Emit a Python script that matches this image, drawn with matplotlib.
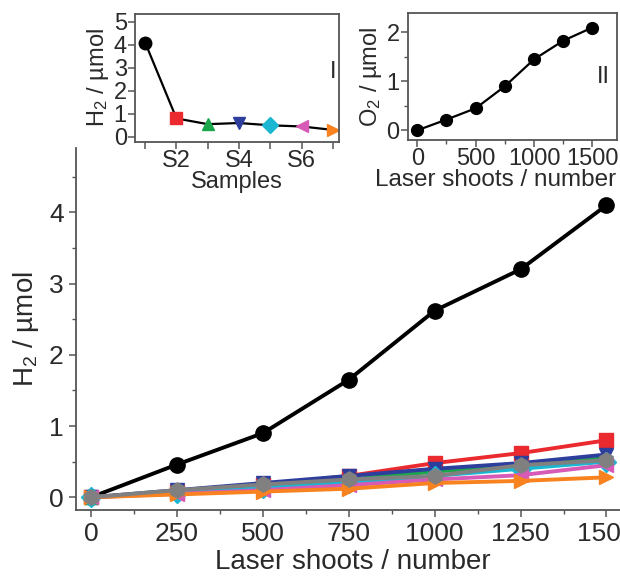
import matplotlib

matplotlib.use("Agg")
import matplotlib.pyplot as plt
from matplotlib.ticker import MultipleLocator

# main panel: H2 vs laser shots, one series per sample
shots = [0, 250, 500, 750, 1000, 1250, 1500]
h2_s1 = [0, 0.46, 0.90, 1.65, 2.62, 3.20, 4.10]
h2_s2 = [0, 0.08, 0.17, 0.30, 0.48, 0.62, 0.80]
h2_s3 = [0, 0.08, 0.16, 0.25, 0.36, 0.45, 0.55]
h2_s4 = [0, 0.10, 0.20, 0.30, 0.40, 0.48, 0.60]
h2_s5 = [0, 0.06, 0.13, 0.20, 0.30, 0.40, 0.50]
h2_s6 = [0, 0.05, 0.10, 0.17, 0.25, 0.31, 0.45]
h2_s7 = [0, 0.04, 0.08, 0.12, 0.20, 0.23, 0.28]
h2_s8 = [0, 0.10, 0.18, 0.25, 0.30, 0.45, 0.52]

# inset I: final H2 per sample
samples = [1, 2, 3, 4, 5, 6, 7]
sample_labels = ["", "S2", "", "S4", "", "S6", ""]
h2_final = [4.10, 0.80, 0.55, 0.60, 0.50, 0.45, 0.30]

# inset II: O2 vs laser shots
o2 = [0, 0.22, 0.45, 0.90, 1.45, 1.83, 2.10]

SERIES = [
    (h2_s1, "#000000", "o"),
    (h2_s2, "#ea2a2e", "s"),
    (h2_s3, "#1ba64b", "^"),
    (h2_s4, "#2d3e9c", "v"),
    (h2_s5, "#1ab6d2", "D"),
    (h2_s6, "#d65ab6", "<"),
    (h2_s7, "#f7821f", ">"),
    (h2_s8, "#808080", "h"),
]

TXT = "#2a2a2a"
plt.rcParams.update(
    {
        "font.family": ["Liberation Sans", "DejaVu Sans"],
        "mathtext.fontset": "custom",
        "mathtext.rm": "Liberation Sans",
        "mathtext.it": "Liberation Sans",
        "text.color": TXT,
        "axes.labelcolor": TXT,
        "xtick.color": "#555555",
        "ytick.color": "#555555",
        "xtick.labelcolor": TXT,
        "ytick.labelcolor": TXT,
        "axes.edgecolor": "#555555",
        "xtick.direction": "out",
        "ytick.direction": "out",
    }
)


def style(ax):
    for s in ax.spines.values():
        s.set_linewidth(1.3)
    ax.tick_params(which="major", length=5, width=1.1)
    ax.tick_params(which="minor", length=3, width=1.0)


fig = plt.figure(figsize=(6.2, 5.79), dpi=100)

# main axes
ax = fig.add_axes([0.122, 0.119, 0.895, 0.625])
sizes = {"o": 11, "h": 11, "s": 9.5}
for ys, c, m in SERIES:
    ax.plot(shots, ys, color=c, marker=m, markersize=sizes.get(m, 10),
            linewidth=2.8, markeredgecolor=c, clip_on=False)
ax.set_xlim(-45, 1570)
ax.set_ylim(-0.18, 4.9)
ax.set_xticks(shots)
ax.xaxis.set_minor_locator(MultipleLocator(125))
ax.yaxis.set_minor_locator(MultipleLocator(0.5))
ax.set_yticks([0, 1, 2, 3, 4])
ax.tick_params(labelsize=19)
ax.set_xlabel("Laser shoots / number", fontsize=20, labelpad=2)
ax.set_ylabel("H$_2$ / µmol", fontsize=20, labelpad=6)
ax.spines["top"].set_visible(False)
ax.spines["right"].set_visible(False)
style(ax)

# inset I
a1 = fig.add_axes([0.218, 0.755, 0.329, 0.221])
a1.plot(samples, h2_final, color="black", linewidth=1.6, zorder=1)
for x, y, (_, c, m) in zip(samples, h2_final, SERIES):
    a1.plot(x, y, marker=m, color=c, markersize=8 if m != "o" else 9,
            linestyle="none", clip_on=False, zorder=2)
a1.set_xlim(0.68, 7.2)
a1.set_ylim(-0.22, 5.35)
a1.set_xticks(samples)
a1.set_xticklabels(sample_labels)
a1.set_yticks([0, 1, 2, 3, 4, 5])
a1.tick_params(labelsize=17, pad=1)
a1.set_xlabel("Samples", fontsize=17, labelpad=-1)
a1.set_ylabel("H$_2$ / µmol", fontsize=17, labelpad=2)
a1.text(7.0, 2.8, "I", fontsize=17, ha="center", va="center")
style(a1)

# inset II
a2 = fig.add_axes([0.658, 0.758, 0.337, 0.219])
a2.plot(shots, o2, color="black", marker="o", markersize=8.5, linewidth=1.6, clip_on=False)
a2.set_xlim(-80, 1710)
a2.set_ylim(-0.2, 2.39)
a2.set_xticks([0, 500, 1000, 1500])
a2.xaxis.set_minor_locator(MultipleLocator(250))
a2.set_yticks([0, 1, 2])
a2.yaxis.set_minor_locator(MultipleLocator(0.5))
a2.tick_params(labelsize=17, pad=1)
a2.set_xlabel("Laser shoots / number", fontsize=17.5)
a2.xaxis.set_label_coords(0.42, -0.23)
a2.set_ylabel("O$_2$ / µmol", fontsize=17, labelpad=2)
a2.text(1590, 1.08, "II", fontsize=17, ha="center", va="center")
style(a2)

fig.savefig("out.png", dpi=100)
